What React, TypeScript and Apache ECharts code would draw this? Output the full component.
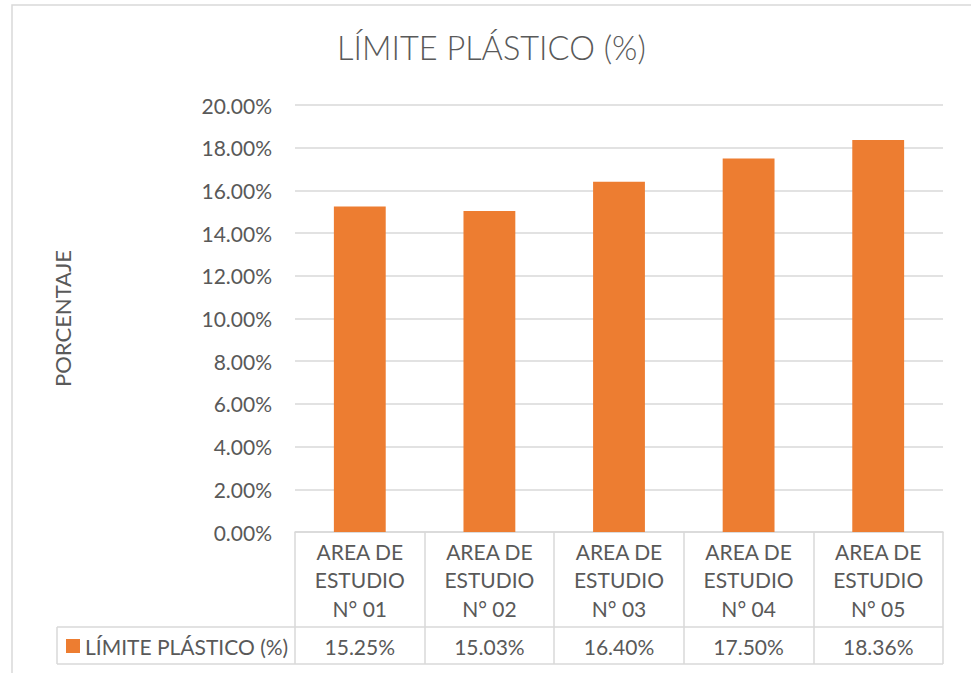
import React, { useEffect, useRef } from "react";
import * as echarts from "echarts";

const chartTitle = "LÍMITE PLÁSTICO (%)";
const seriesName = "LÍMITE PLÁSTICO (%)";
const yAxisName = "PORCENTAJE";
const categories = [
  "AREA DE\nESTUDIO\nN° 01",
  "AREA DE\nESTUDIO\nN° 02",
  "AREA DE\nESTUDIO\nN° 03",
  "AREA DE\nESTUDIO\nN° 04",
  "AREA DE\nESTUDIO\nN° 05",
];
const values = [15.25, 15.03, 16.4, 17.5, 18.36];
const yMin = 0;
const yMax = 20;
const yInterval = 2;

const TEXT = "#595959";
const LINE = "#d9d9d9";
const BAR = "#ED7D31";
const FONT = "Lato, 'Open Sans', sans-serif";

export default function App() {
  const ref = useRef<HTMLDivElement>(null);
  useEffect(() => {
    if (!ref.current) return;
    const chart = echarts.init(ref.current, null, { renderer: "svg" });
    const fmt = (v: number) => v.toFixed(2) + "%";
    chart.setOption({
      animation: false,
      backgroundColor: "#ffffff",
      textStyle: { fontFamily: FONT, color: TEXT },
      title: {
        text: chartTitle,
        left: 337,
        top: 31,
        padding: 0,
        textStyle: { fontFamily: FONT, fontSize: 32.5, fontWeight: 300, color: TEXT },
      },
      legend: {
        data: [seriesName],
        left: 66,
        top: 635,
        padding: 0,
        itemWidth: 14,
        itemHeight: 14,
        icon: "rect",
        textStyle: { fontFamily: FONT, fontSize: 21, color: TEXT, lineHeight: 22, padding: [0, 0, 0, 0] },
      },
      grid: { left: 295, right: 28, top: 105, bottom: 141, containLabel: false },
      xAxis: [
        {
          type: "category",
          data: categories,
          position: "bottom",
          axisLine: { show: true, lineStyle: { color: LINE, width: 1.5 } },
          axisTick: { show: true, length: 132, lineStyle: { color: LINE, width: 1.5 } },
          axisLabel: {
            interval: 0,
            margin: 5,
            fontFamily: FONT,
            fontSize: 21,
            lineHeight: 28.5,
            color: TEXT,
          },
        },
        {
          type: "category",
          data: values.map(fmt),
          position: "bottom",
          offset: 95,
          axisLine: { show: false },
          axisTick: { show: false },
          splitLine: { show: false },
          axisLabel: {
            interval: 0,
            margin: 9,
            fontFamily: FONT,
            fontSize: 21,
            lineHeight: 21,
            color: TEXT,
          },
        },
      ],
      yAxis: {
        type: "value",
        min: yMin,
        max: yMax,
        interval: yInterval,
        name: yAxisName,
        nameLocation: "middle",
        nameRotate: 90,
        nameGap: 222,
        nameTextStyle: { fontFamily: FONT, fontSize: 22, color: TEXT },
        axisLine: { show: false },
        axisTick: { show: false },
        splitLine: { show: true, lineStyle: { color: LINE, width: 1.5 } },
        axisLabel: {
          margin: 23,
          fontFamily: FONT,
          fontSize: 21,
          color: TEXT,
          formatter: (v: number) => fmt(v),
        },
      },
      series: [
        {
          name: seriesName,
          type: "bar",
          data: values,
          barWidth: "40%",
          itemStyle: { color: BAR },
        },
      ],
      graphic: [
        {
          type: "rect",
          shape: { x: 12, y: 5, width: 1000, height: 700 },
          style: { fill: "none", stroke: LINE, lineWidth: 1.5 },
          silent: true,
        },
        {
          type: "line",
          shape: { x1: 57, y1: 627, x2: 943, y2: 627 },
          style: { stroke: LINE, lineWidth: 1.5 },
          silent: true,
        },
        {
          type: "line",
          shape: { x1: 57, y1: 664, x2: 943, y2: 664 },
          style: { stroke: LINE, lineWidth: 1.5 },
          silent: true,
        },
        {
          type: "line",
          shape: { x1: 57, y1: 627, x2: 57, y2: 664 },
          style: { stroke: LINE, lineWidth: 1.5 },
          silent: true,
        },
      ],
    });
    return () => chart.dispose();
  }, []);
  return (
    <div
      ref={ref}
      style={{ position: "absolute", left: 0, top: 0, width: 971, height: 673 }}
    />
  );
}
